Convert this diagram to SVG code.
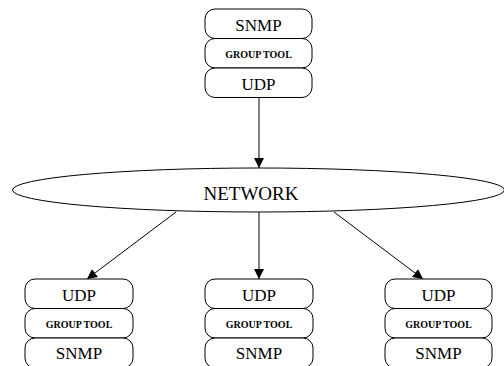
<svg xmlns="http://www.w3.org/2000/svg" width="504" height="366" viewBox="0 0 504 366">
  <defs>
    <style>
      .box { fill: #fff; stroke: #000; stroke-width: 1; }
      .link { stroke: #000; stroke-width: 1; fill: none; }
      .lbl { font-family: "Liberation Serif", "Times New Roman", serif; font-size: 17px; text-anchor: middle; fill: #000; }
      .small { font-family: "Liberation Serif", "Times New Roman", serif; font-size: 10px; font-weight: bold; text-anchor: middle; fill: #000; }
      .net { font-family: "Liberation Serif", "Times New Roman", serif; font-size: 19px; text-anchor: middle; fill: #000; }
    </style>
    <marker id="arrow" viewBox="0 0 10 10" refX="10" refY="5" markerWidth="10" markerHeight="10" markerUnits="userSpaceOnUse" orient="auto">
      <path d="M0,0 L10,5 L0,10 Z" fill="#000"/>
    </marker>
  </defs>

  <!-- connectors -->
  <g id="connectors">
    <line class="link" x1="259" y1="98" x2="259" y2="168" marker-end="url(#arrow)"/>
    <line class="link" x1="176" y1="212" x2="87" y2="279" marker-end="url(#arrow)"/>
    <line class="link" x1="259" y1="212" x2="259" y2="279" marker-end="url(#arrow)"/>
    <line class="link" x1="334" y1="212" x2="423" y2="279" marker-end="url(#arrow)"/>
  </g>

  <!-- sender stack -->
  <g id="sender">
    <rect class="box" x="205" y="9" width="107" height="29.5" rx="10"/>
    <text class="lbl" x="258.5" y="31">SNMP</text>
    <rect class="box" x="205" y="38.5" width="107" height="29.5" rx="10"/>
    <text class="small" x="258.5" y="57.5">GROUP TOOL</text>
    <rect class="box" x="205" y="68" width="107" height="29.5" rx="10"/>
    <text class="lbl" x="258.5" y="89.5">UDP</text>
  </g>

  <!-- network -->
  <g id="network">
    <ellipse class="box" cx="258.5" cy="190" rx="246" ry="22"/>
    <text class="net" x="251" y="200">NETWORK</text>
  </g>

  <!-- receiver stacks -->
  <g id="receiver-left">
    <rect class="box" x="25" y="279" width="108" height="29.5" rx="10"/>
    <text class="lbl" x="79" y="301">UDP</text>
    <rect class="box" x="25" y="308.5" width="108" height="29.5" rx="10"/>
    <text class="small" x="79" y="327.5">GROUP TOOL</text>
    <rect class="box" x="25" y="338" width="108" height="30" rx="10"/>
    <text class="lbl" x="79" y="359">SNMP</text>
  </g>

  <g id="receiver-middle">
    <rect class="box" x="205" y="279" width="108" height="29.5" rx="10"/>
    <text class="lbl" x="259" y="301">UDP</text>
    <rect class="box" x="205" y="308.5" width="108" height="29.5" rx="10"/>
    <text class="small" x="259" y="327.5">GROUP TOOL</text>
    <rect class="box" x="205" y="338" width="108" height="30" rx="10"/>
    <text class="lbl" x="259" y="359">SNMP</text>
  </g>

  <g id="receiver-right">
    <rect class="box" x="385" y="279" width="107" height="29.5" rx="10"/>
    <text class="lbl" x="438.5" y="301">UDP</text>
    <rect class="box" x="385" y="308.5" width="107" height="29.5" rx="10"/>
    <text class="small" x="438.5" y="327.5">GROUP TOOL</text>
    <rect class="box" x="385" y="338" width="107" height="30" rx="10"/>
    <text class="lbl" x="438.5" y="359">SNMP</text>
  </g>
</svg>
